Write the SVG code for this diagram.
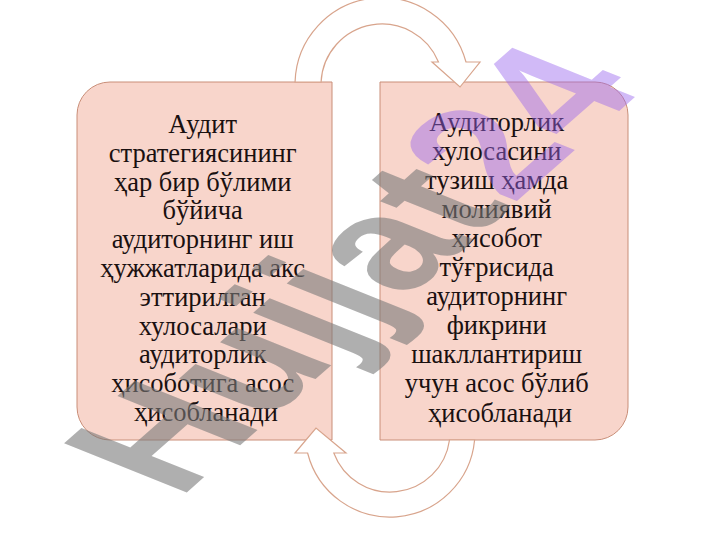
<svg xmlns="http://www.w3.org/2000/svg" width="720" height="540" viewBox="0 0 720 540">
<style>
.box{fill:#F8D5CB;stroke:#C98E78;stroke-width:1}
.arrow{fill:#FFFFFF;stroke:#D8A48C;stroke-width:1.2;stroke-linejoin:miter}
.t{font-family:"Liberation Serif","Times New Roman","DejaVu Serif",serif;font-size:26.5px;fill:#1a1010;text-anchor:middle}
.wm{font-family:"Liberation Sans",Arial,sans-serif;font-weight:bold;font-size:128px}
</style>
<rect width="720" height="540" fill="#FFFFFF"/>
<g id="node-left">
<path class="box" d="M110,82 H332 V440 H110 A33,33 0 0 1 77,407 V115 A33,33 0 0 1 110,82 Z"/>
<text class="t" x="206">
<tspan x="206" y="133">Аудит</tspan>
<tspan x="206" y="161.8">стратегиясининг</tspan>
<tspan x="206" y="190.6">ҳар бир бўлими</tspan>
<tspan x="206" y="219.4">бўйича</tspan>
<tspan x="206" y="248.2">аудиторнинг иш</tspan>
<tspan x="206" y="277">ҳужжатларида акс</tspan>
<tspan x="206" y="305.8">эттирилган</tspan>
<tspan x="206" y="334.6">хулосалари</tspan>
<tspan x="206" y="363.4">аудиторлик</tspan>
<tspan x="206" y="392.2">ҳисоботига асос</tspan>
<tspan x="206" y="421">ҳисобланади</tspan>
</text>
</g>
<g id="node-right">
<path class="box" d="M380,82 H595 A33,33 0 0 1 628,115 V407 A33,33 0 0 1 595,440 H380 Z"/>
<text class="t" x="500">
<tspan x="500" y="130.5">Аудиторлик</tspan>
<tspan x="500" y="159.6">хулосасини</tspan>
<tspan x="500" y="188.7">тузиш ҳамда</tspan>
<tspan x="500" y="217.8">молиявий</tspan>
<tspan x="500" y="246.9">ҳисобот</tspan>
<tspan x="500" y="276">тўғрисида</tspan>
<tspan x="500" y="305.1">аудиторнинг</tspan>
<tspan x="500" y="334.2">фикрини</tspan>
<tspan x="500" y="363.3">шакллантириш</tspan>
<tspan x="500" y="392.4">учун асос бўлиб</tspan>
<tspan x="500" y="421.5">ҳисобланади</tspan>
</text>
</g>
<g id="connectors">
<path class="arrow" d="M295.05,82 A87,87 0 0 1 466,62 L480,62 L460,87 L432,62 L438.5,62 A61,61 0 0 0 321.07,82 Z"/>
<path class="arrow" d="M474.6,440 A85,85 0 0 1 307.6,453 L295,453 L316,428 L346,453 L333.8,453 A60,60 0 0 0 449.5,440 Z"/>
</g>
<g id="watermark" transform="translate(350,268) scale(1.68,1) rotate(-56)">
<text class="wm" x="0" y="45" text-anchor="middle"><tspan fill="#7a7a7a" fill-opacity="0.6">Hujjat</tspan><tspan fill="#9966EE" fill-opacity="0.45">24</tspan></text>
</g>
</svg>
